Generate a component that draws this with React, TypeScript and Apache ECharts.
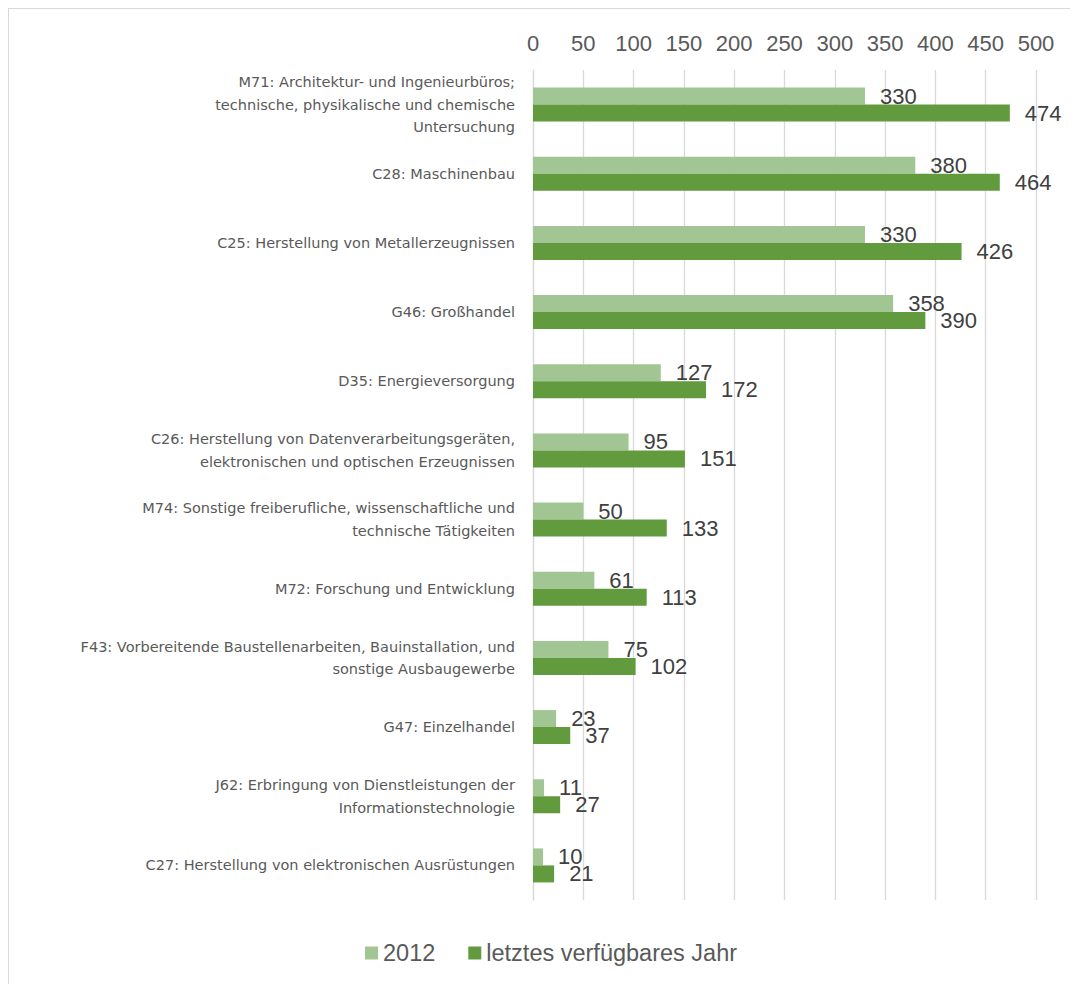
import React, { useEffect, useRef } from "react";
import * as echarts from "echarts";

const categories: string[] = [
  "M71: Architektur- und Ingenieurbüros;\ntechnische, physikalische und chemische\nUntersuchung",
  "C28: Maschinenbau",
  "C25: Herstellung von Metallerzeugnissen",
  "G46: Großhandel",
  "D35: Energieversorgung",
  "C26: Herstellung von Datenverarbeitungsgeräten,\nelektronischen und optischen Erzeugnissen",
  "M74: Sonstige freiberufliche, wissenschaftliche und\ntechnische Tätigkeiten",
  "M72: Forschung und Entwicklung",
  "F43: Vorbereitende Baustellenarbeiten, Bauinstallation, und\nsonstige Ausbaugewerbe",
  "G47: Einzelhandel",
  "J62: Erbringung von Dienstleistungen der\nInformationstechnologie",
  "C27: Herstellung von elektronischen Ausrüstungen",
];

const values2012: number[] = [330, 380, 330, 358, 127, 95, 50, 61, 75, 23, 11, 10];
const valuesLatest: number[] = [474, 464, 426, 390, 172, 151, 133, 113, 102, 37, 27, 21];

const seriesNames = ["2012", "letztes verfügbares Jahr"];
const xTicks = { min: 0, max: 500, interval: 50 };

const FONT = "'Liberation Sans', Arial, sans-serif";
const CAT_FONT = "'DejaVu Sans', Verdana, sans-serif";

export default function App() {
  const ref = useRef<HTMLDivElement>(null);
  useEffect(() => {
    if (!ref.current) return;
    const chart = echarts.init(ref.current, undefined, { renderer: "svg" });
    const labelCfg = {
      show: true,
      position: "right" as const,
      distance: 15,
      fontSize: 22,
      color: "#404040",
      fontFamily: FONT,
    };
    chart.setOption({
      animation: false,
      backgroundColor: "#ffffff",
      textStyle: { fontFamily: FONT },
      grid: { left: 524, right: 41, top: 61, bottom: 84, containLabel: false },
      legend: {
        bottom: 14,
        left: 351,
        itemWidth: 13,
        itemHeight: 13,
        itemGap: 33,
        icon: "rect",
        textStyle: { fontSize: 23.5, color: "#595959", fontFamily: FONT },
        data: seriesNames,
      },
      xAxis: {
        type: "value",
        position: "top",
        min: xTicks.min,
        max: xTicks.max,
        interval: xTicks.interval,
        axisLine: { show: false },
        axisTick: { show: false },
        axisLabel: { fontSize: 22, color: "#595959", margin: 16, fontFamily: FONT },
        splitLine: { show: true, lineStyle: { color: "#d9d9d9", width: 1.3 } },
      },
      yAxis: {
        type: "category",
        inverse: true,
        data: categories,
        axisLine: { show: true, lineStyle: { color: "#d9d9d9", width: 1.3 } },
        axisTick: { show: false },
        axisLabel: {
          fontSize: 14.5,
          color: "#595959",
          margin: 18,
          align: "right",
          lineHeight: 22.5,
          fontFamily: CAT_FONT,
        },
      },
      series: [
        {
          name: seriesNames[0],
          type: "bar",
          data: values2012,
          barWidth: 17,
          barGap: "0%",
          itemStyle: { color: "#a2c693" },
          label: labelCfg,
        },
        {
          name: seriesNames[1],
          type: "bar",
          data: valuesLatest,
          barWidth: 17,
          barGap: "0%",
          itemStyle: { color: "#629b3e" },
          label: labelCfg,
        },
      ],
    });
    return () => chart.dispose();
  }, []);
  return (
    <div
      style={{
        width: 1068,
        height: 975,
        border: "1px solid #d9d9d9",
        borderBottom: "none",
        background: "#fff",
      }}
    >
      <div ref={ref} style={{ width: 1068, height: 975 }} />
    </div>
  );
}
